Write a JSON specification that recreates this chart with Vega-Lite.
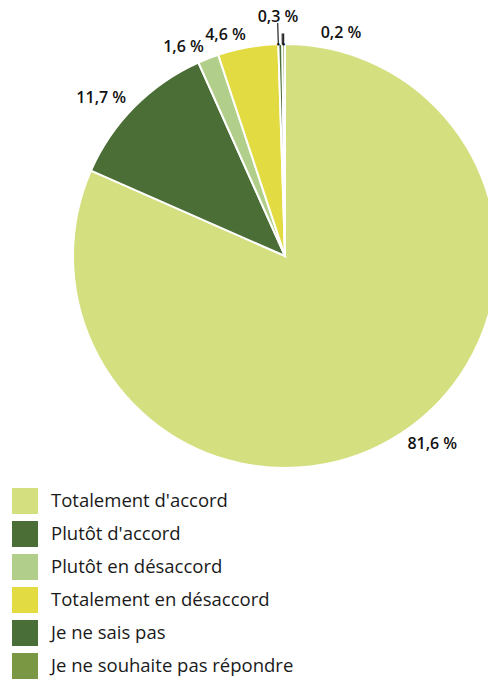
{
  "$schema": "https://vega.github.io/schema/vega-lite/v6.json",
  "width": 488,
  "height": 679,
  "autosize": {"type": "none"},
  "padding": 0,
  "background": "white",
  "config": {"view": {"stroke": null}},
  "data": {
    "values": [
      {"idx": 1, "reponse": "Totalement d'accord", "value": 81.6, "label": "81,6 %"},
      {"idx": 2, "reponse": "Plutôt d'accord", "value": 11.7, "label": "11,7 %"},
      {"idx": 3, "reponse": "Plutôt en désaccord", "value": 1.6, "label": "1,6 %"},
      {"idx": 4, "reponse": "Totalement en désaccord", "value": 4.6, "label": "4,6 %"},
      {"idx": 5, "reponse": "Je ne sais pas", "value": 0.3, "label": "0,3 %"},
      {"idx": 6, "reponse": "Je ne souhaite pas répondre", "value": 0.2, "label": "0,2 %"}
    ]
  },
  "layer": [
    {
      "mark": {"type": "arc", "x": 285, "y": 256, "outerRadius": 212, "stroke": "white", "strokeWidth": 2},
      "encoding": {
        "theta": {"field": "value", "type": "quantitative", "stack": true, "scale": {"domain": [0, 100]}},
        "order": {"field": "idx", "type": "quantitative"},
        "color": {
          "field": "reponse",
          "type": "nominal",
          "scale": {
            "domain": ["Totalement d'accord", "Plutôt d'accord", "Plutôt en désaccord", "Totalement en désaccord", "Je ne sais pas", "Je ne souhaite pas répondre"],
            "range": ["#d4df7f", "#4a6e35", "#b1cf8a", "#e2dc42", "#4a6e37", "#7a9843"]
          },
          "legend": {
            "title": null,
            "orient": "none",
            "legendX": 12,
            "legendY": 488,
            "symbolType": "square",
            "symbolSize": 676,
            "symbolStrokeWidth": 0,
            "labelFont": "Open Sans",
            "labelFontSize": 18.5,
            "labelColor": "#1a1a1a",
            "labelOffset": 13,
            "rowPadding": 7,
            "labelLimit": 400
          }
        }
      }
    },
    {
      "transform": [
        {"stack": "value", "groupby": [], "sort": [{"field": "idx", "order": "ascending"}], "as": ["v0", "v1"]},
        {"filter": "datum.idx == 5"}
      ],
      "mark": {"type": "arc", "x": 285, "y": 256, "innerRadius": 212, "outerRadius": 233, "fill": null, "stroke": "#222222", "strokeWidth": 1.2},
      "encoding": {
        "theta": {"field": "v0", "type": "quantitative", "scale": {"domain": [0, 100]}},
        "theta2": {"field": "v0"}
      }
    },
    {
      "transform": [
        {"stack": "value", "groupby": [], "sort": [{"field": "idx", "order": "ascending"}], "as": ["v0", "v1"]},
        {"filter": "datum.idx == 6"}
      ],
      "mark": {"type": "arc", "x": 285, "y": 256, "innerRadius": 212, "outerRadius": 222, "thetaOffset": 0.0063, "fill": null, "stroke": "#222222", "strokeWidth": 1.2},
      "encoding": {
        "theta": {"field": "v0", "type": "quantitative", "scale": {"domain": [0, 100]}},
        "theta2": {"field": "v0"}
      }
    },
    {
      "transform": [
        {"stack": "value", "groupby": [], "sort": [{"field": "idx", "order": "ascending"}], "as": ["v0", "v1"]},
        {"filter": "datum.idx == 5"}
      ],
      "mark": {"type": "text", "x": 285, "y": 256, "radius": 212, "text": "●", "fontSize": 6, "color": "#111111", "baseline": "middle", "align": "center"},
      "encoding": {
        "theta": {"field": "v0", "type": "quantitative", "scale": {"domain": [0, 100]}}
      }
    },
    {
      "transform": [
        {"stack": "value", "groupby": [], "sort": [{"field": "idx", "order": "ascending"}], "as": ["v0", "v1"]},
        {"filter": "datum.idx == 6"}
      ],
      "mark": {"type": "text", "x": 285, "y": 256, "radius": 212, "thetaOffset": 0.0063, "text": "●", "fontSize": 6, "color": "#111111", "baseline": "middle", "align": "center"},
      "encoding": {
        "theta": {"field": "v0", "type": "quantitative", "scale": {"domain": [0, 100]}}
      }
    },
    {
      "mark": {"type": "text", "x": 285, "y": 256, "radius": 224, "align": "left", "baseline": "middle", "font": "Open Sans", "fontWeight": 600, "fontSize": 16, "color": "#111111"},
      "encoding": {
        "theta": {"field": "value", "type": "quantitative", "stack": true, "scale": {"domain": [0, 100]}},
        "order": {"field": "idx", "type": "quantitative"},
        "text": {"condition": {"test": "datum.idx == 1", "field": "label"}, "value": ""}
      }
    },
    {
      "mark": {"type": "text", "x": 285, "y": 256, "radius": 224, "align": "right", "baseline": "middle", "font": "Open Sans", "fontWeight": 600, "fontSize": 16, "color": "#111111"},
      "encoding": {
        "theta": {"field": "value", "type": "quantitative", "stack": true, "scale": {"domain": [0, 100]}},
        "order": {"field": "idx", "type": "quantitative"},
        "text": {"condition": {"test": "datum.idx >= 2 && datum.idx <= 4", "field": "label"}, "value": ""}
      }
    },
    {
      "transform": [{"filter": "datum.idx == 5"}],
      "mark": {"type": "text", "x": 278, "y": 256, "radius": 239, "align": "center", "baseline": "middle", "font": "Open Sans", "fontWeight": 600, "fontSize": 16, "color": "#111111"},
      "encoding": {
        "text": {"field": "label"}
      }
    },
    {
      "transform": [{"filter": "datum.idx == 6"}],
      "mark": {"type": "text", "x": 341, "y": 256, "radius": 223, "align": "center", "baseline": "middle", "font": "Open Sans", "fontWeight": 600, "fontSize": 16, "color": "#111111"},
      "encoding": {
        "text": {"field": "label"}
      }
    }
  ]
}
